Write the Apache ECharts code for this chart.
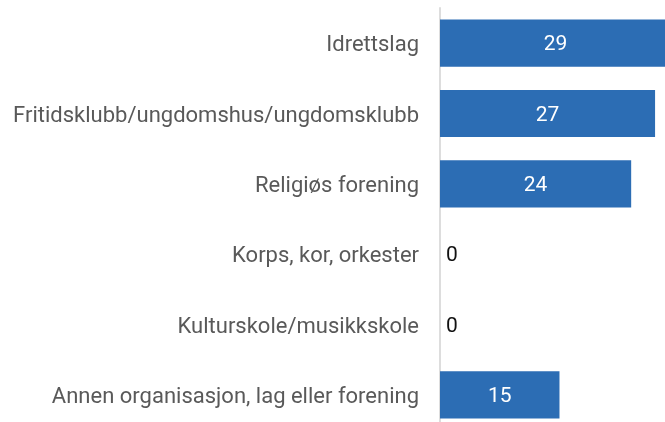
<!DOCTYPE html>
<html><head><meta charset="utf-8">
<script src="https://cdn.jsdelivr.net/npm/echarts@6/dist/echarts.min.js"></script>
<style>html,body{margin:0;padding:0;background:#fff}#c{width:665px;height:422px}</style>
</head><body><div id="c"></div>
<script>
var categories = ["Idrettslag","Fritidsklubb/ungdomshus/ungdomsklubb","Religiøs forening","Korps, kor, orkester","Kulturskole/musikkskole","Annen organisasjon, lag eller forening"];
var values = [29, 27, 24, 0, 0, 15];

var chart = echarts.init(document.getElementById('c'), null, {renderer:'canvas'});
var data = values.map(function(v){
  return v === 0 ? {value: v, label: {position: 'right', color: '#111111', distance: 6}} : v;
});
chart.setOption({
  animation: false,
  grid: {left: 440, top: 8, width: 231, height: 422, outerBoundsMode: 'none', containLabel: false},
  xAxis: {type: 'value', min: 0, max: 29, show: false},
  yAxis: {type: 'category', data: categories, inverse: true,
    axisLine: {show: true, lineStyle: {color: '#dddddd', width: 2}},
    axisTick: {show: false},
    axisLabel: {margin: 21,
      formatter: function(v){ return '{a|' + v + '}'; },
      rich: {a: {color: '#595959', fontSize: 22, fontFamily: 'Roboto', padding: [5, 0, 0, 0]}}
    }
  },
  series: [{type: 'bar', data: data, barCategoryGap: '33%',
    itemStyle: {color: '#2c6db4'},
    label: {show: true, position: 'inside', color: '#ffffff', fontSize: 21, fontFamily: 'Roboto', offset: [0, 2]}
  }]
});
</script></body></html>
